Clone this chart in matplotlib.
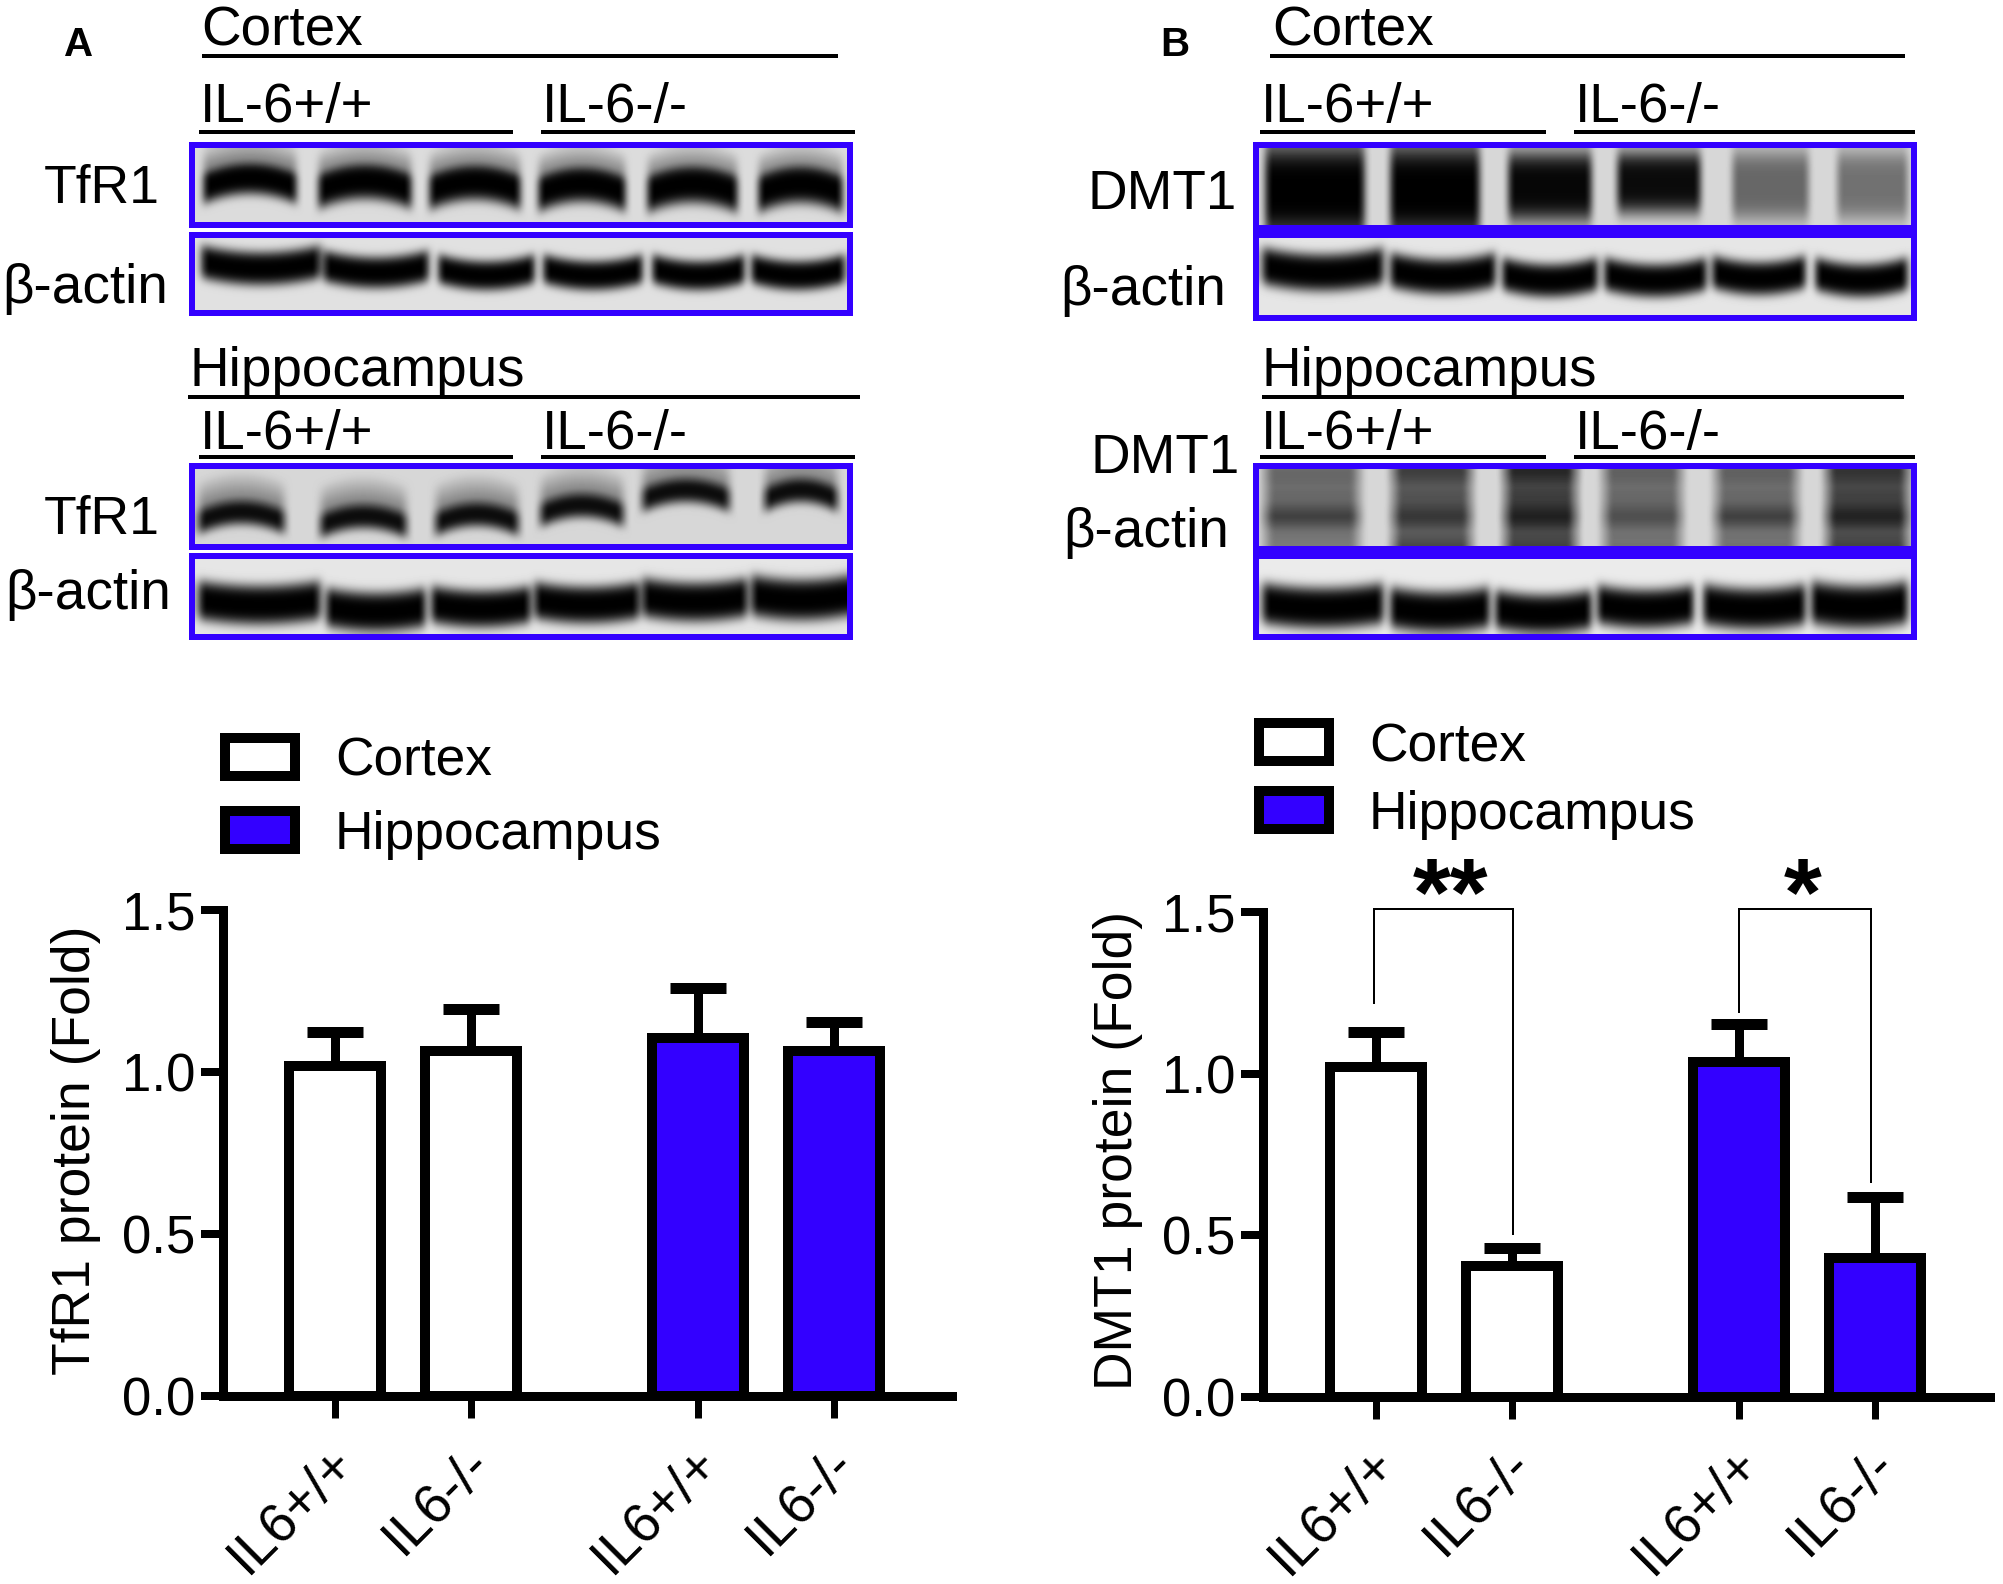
import matplotlib
matplotlib.use('Agg')
import matplotlib.pyplot as plt
from matplotlib.patches import Patch, Rectangle
from matplotlib.transforms import ScaledTranslation
import numpy as np

plt.rcParams['font.family'] = ['Liberation Sans', 'DejaVu Sans']

# Dados
groups = ['IL6+/+', 'IL6-/-', 'IL6+/+', 'IL6-/-']
tfr1_mean = [1.02, 1.065, 1.105, 1.065]
tfr1_upper = [1.125, 1.195, 1.26, 1.155]
dmt1_mean = [1.02, 0.405, 1.035, 0.43]
dmt1_upper = [1.13, 0.46, 1.155, 0.62]
yticks = [0.0, 0.5, 1.0, 1.5]

W, H = 2003, 1584
BLUE = '#3300FF'
PT = 0.72  # px -> pt at dpi 100

fig = plt.figure(figsize=(W / 100, H / 100), dpi=100)
bg = fig.add_axes([0, 0, 1, 1], zorder=0)


def add_bands(img, x0, y0, lefts, rights, centers, half, dark, smear=0.0, curve=0.0):
    yy, xx = np.mgrid[0:img.shape[0], 0:img.shape[1]]
    xx = xx + x0
    yy = yy + y0
    for i in range(len(lefts)):
        mid = (lefts[i] + rights[i]) / 2
        hw = (rights[i] - lefts[i]) / 2
        u = (xx - mid) / hw
        mask = np.clip((1.08 - np.abs(u)) / 0.16, 0, 1)
        d = yy - (centers[i] + curve * (u ** 2 - 0.3))
        band = np.exp(-(d / half[i]) ** 4)
        if smear > 0:
            up = smear * np.clip(1 + d / 42, 0, 1) * (d < 0)
            band = np.maximum(band, up)
        img *= 1 - dark[i] * band * mask


def blur(img, n=7):
    k = np.ones(n) / n
    pad = np.pad(img, n, mode='edge')
    pad = np.apply_along_axis(lambda r: np.convolve(r, k, mode='same'), 0, pad)
    pad = np.apply_along_axis(lambda r: np.convolve(r, k, mode='same'), 1, pad)
    return pad[n:-n, n:-n]


def show_blot(x0, x1, y0, y1, level, band_sets, n=9):
    img = np.full((y1 - y0, x1 - x0), float(level))
    for b in band_sets:
        add_bands(img, x0, y0, **b)
    bg.imshow(blur(img, n), cmap='gray', vmin=0, vmax=1, extent=(x0, x1, y1, y0),
              aspect='auto', interpolation='bilinear', zorder=1)


six_black = [1, 1, 1, 1, 1, 1]

# Panel A blots
show_blot(195, 847, 148, 222, 0.86, [dict(
    lefts=[203, 318, 429, 538, 647, 758], rights=[296, 411, 520, 625, 737, 842],
    centers=[180, 183, 184, 186, 186, 186], half=[17, 19, 19, 19, 20, 20],
    dark=six_black, smear=0.72, curve=10)])
show_blot(195, 847, 238, 310, 0.88, [dict(
    lefts=[201, 323, 438, 543, 652, 751], rights=[320, 428, 534, 642, 744, 844],
    centers=[266, 270, 273, 273, 273, 273], half=[17, 16, 15, 15, 15, 15],
    dark=six_black, curve=-7)])
show_blot(195, 847, 469, 544, 0.84, [dict(
    lefts=[198, 320, 435, 540, 642, 764], rights=[284, 406, 518, 623, 729, 837],
    centers=[514, 518, 516, 507, 492, 492], half=[13, 13, 13, 13, 13, 13],
    dark=[.95, .95, .95, .95, .95, .95], smear=0.62, curve=10)], n=11)
show_blot(195, 847, 559, 634, 0.90, [dict(
    lefts=[198, 326, 431, 534, 642, 751], rights=[320, 425, 530, 639, 747, 850],
    centers=[603, 610, 607, 603, 600, 598], half=[20, 20, 19, 19, 20, 21],
    dark=six_black, curve=-5)])

# Panel B blots
b_lanes_hi = dict(lefts=[1262, 1390, 1502, 1604, 1712, 1815], rights=[1383, 1495, 1597, 1706, 1805, 1907])
show_blot(1259, 1911, 148, 225, 0.84, [dict(
    lefts=[1265, 1390, 1508, 1617, 1732, 1837], rights=[1364, 1479, 1591, 1700, 1808, 1907],
    centers=[190, 190, 186, 182, 185, 185], half=[48, 48, 36, 32, 36, 36],
    dark=[1, 1, .97, .95, .52, .47], smear=0.6)])
show_blot(1259, 1911, 238, 315, 0.90, [dict(
    centers=[270, 274, 278, 278, 276, 278], half=[19, 18, 17, 17, 17, 17],
    dark=six_black, curve=-7, **b_lanes_hi)])
b_lanes_lo = dict(lefts=[1265, 1393, 1505, 1604, 1716, 1827], rights=[1358, 1470, 1575, 1680, 1796, 1907])
show_blot(1259, 1911, 469, 546, 0.84, [
    dict(centers=[507] * 6, half=[42] * 6, dark=[.52, .62, .72, .52, .52, .7], **b_lanes_lo),
    dict(centers=[472] * 6, half=[8] * 6, dark=[.3, .55, .7, .35, .35, .6], **b_lanes_lo),
    dict(centers=[516] * 6, half=[9] * 6, dark=[.4, .35, .5, .25, .4, .5], **b_lanes_lo),
    dict(centers=[544] * 6, half=[7] * 6, dark=[.2, .5, .5, .25, .25, .5], **b_lanes_lo)], n=15)
show_blot(1259, 1911, 559, 634, 0.92, [dict(
    lefts=[1262, 1390, 1495, 1597, 1703, 1811], rights=[1383, 1489, 1591, 1693, 1805, 1907],
    centers=[606, 610, 612, 607, 607, 605], half=[21, 21, 20, 20, 21, 22],
    dark=six_black, curve=-5)])

# blue frames round the blots
for (x0, x1, y0, y1) in [(192, 850, 145, 225), (192, 850, 235, 313),
                         (192, 850, 466, 547), (192, 850, 556, 637),
                         (1256, 1914, 145, 318), (1256, 1914, 466, 637)]:
    bg.add_patch(Rectangle((x0, y0), x1 - x0, y1 - y0, fc='none', ec=BLUE, lw=6 * PT, zorder=3))
for (y0, y1) in [(225, 238), (546, 559)]:
    bg.add_patch(Rectangle((1256, y0), 658, y1 - y0, fc=BLUE, ec='none', zorder=3))

# header lines
for (x0, x1, y) in [(202, 838, 56), (199, 513, 132), (541, 855, 132),
                    (188, 860, 397), (199, 513, 457), (541, 855, 457),
                    (1270, 1905, 56), (1260, 1546, 132), (1574, 1915, 132),
                    (1262, 1904, 397), (1260, 1546, 457), (1574, 1915, 457)]:
    bg.plot([x0, x1], [y, y], color='k', lw=4 * PT, solid_capstyle='butt', zorder=2)

# blot text
BS = 39.5
for (x, y, s, ha, fs) in [
    (201, 46, 'Cortex', 'left', BS), (200, 122, 'IL-6+/+', 'left', BS), (542, 122, 'IL-6-/-', 'left', BS),
    (190, 386, 'Hippocampus', 'left', BS), (200, 449, 'IL-6+/+', 'left', BS), (542, 449, 'IL-6-/-', 'left', BS),
    (160, 203, 'TfR1', 'right', 38.5), (168, 303, 'β-actin', 'right', BS),
    (160, 534, 'TfR1', 'right', 38.5), (171, 609, 'β-actin', 'right', BS),
    (1272, 46, 'Cortex', 'left', BS), (1261, 122, 'IL-6+/+', 'left', BS), (1575, 122, 'IL-6-/-', 'left', BS),
    (1262, 386, 'Hippocampus', 'left', BS), (1261, 449, 'IL-6+/+', 'left', BS), (1575, 449, 'IL-6-/-', 'left', BS),
    (1237, 209, 'DMT1', 'right', 39.5), (1226, 305, 'β-actin', 'right', BS),
    (1240, 473, 'DMT1', 'right', 39.5), (1229, 547, 'β-actin', 'right', BS),
]:
    bg.text(x, y, s, ha=ha, va='baseline', fontsize=fs, color='k', zorder=4)
bg.text(79, 45, 'A', ha='center', va='center', fontsize=29, fontweight='bold')
bg.text(1175, 45, 'B', ha='center', va='center', fontsize=29, fontweight='bold')

bg.set_xlim(0, W)
bg.set_ylim(H, 0)
bg.axis('off')


def bar_panel(left, right, top, zero, xt, means, uppers, ylabel, label_x, legend_xy, spacing):
    ax = fig.add_axes([left / W, 1 - zero / H, (right - left) / W, (zero - top) / H], zorder=2)
    ax.patch.set_alpha(0)
    unit = (xt[3] - xt[0]) / 3.68
    pos = [0, 1, 2.68, 3.68]
    ax.set_xlim((left - xt[0]) / unit, (right - xt[0]) / unit)
    ax.set_ylim(0, 1.5)
    colors = ['white', 'white', BLUE, BLUE]
    err = [u - m for u, m in zip(uppers, means)]
    ax.errorbar(pos, means, yerr=[[0] * 4, err], fmt='none', ecolor='k', elinewidth=9 * PT,
                capsize=28 * PT, capthick=11 * PT, zorder=2, clip_on=False)
    bars = ax.bar(pos, means, width=92 / unit, color=colors, edgecolor='k', linewidth=10 * PT,
                  zorder=3, clip_on=False)
    for s in ['top', 'right']:
        ax.spines[s].set_visible(False)
    for s in ['left', 'bottom']:
        ax.spines[s].set_linewidth(9 * PT)
        ax.spines[s].set_zorder(4)
    ax.set_xticks(pos)
    ax.set_xticklabels(groups, rotation=45, ha='right', rotation_mode='anchor', fontsize=39.5)
    ax.set_yticks(yticks)
    ax.set_yticklabels(['%.1f' % v for v in yticks], fontsize=38)
    ax.tick_params(axis='x', length=22 * PT, width=7 * PT, pad=14)
    ax.tick_params(axis='y', length=22 * PT, width=8 * PT, pad=4)
    shift = ScaledTranslation(-6 / 100, 0, fig.dpi_scale_trans)
    for lab in ax.get_xticklabels():
        lab.set_transform(lab.get_transform() + shift)
    ax.set_ylabel(ylabel, fontsize=38.5, va='center')
    ax.yaxis.set_label_coords((label_x - left) / (right - left), (zero - 1150) / (zero - top))
    handles = [Patch(fc='white', ec='k', lw=10 * PT), Patch(fc=BLUE, ec='k', lw=10 * PT)]
    fig.legend(handles, ['Cortex', 'Hippocampus'], loc='upper left',
               bbox_to_anchor=(legend_xy[0] / W, 1 - legend_xy[1] / H), frameon=False, fontsize=38.4,
               handlelength=1.32, handleheight=0.72, handletextpad=0.74, labelspacing=spacing,
               borderpad=0, borderaxespad=0)
    return ax, bars


axA, _ = bar_panel(223, 952, 910, 1396, [335, 471, 700, 834], tfr1_mean, tfr1_upper,
                   'TfR1 protein (Fold)', 76, (225, 737), 0.43)
axB, _ = bar_panel(1263, 1990, 912, 1397, [1376, 1511, 1739, 1875], dmt1_mean, dmt1_upper,
                   'DMT1 protein (Fold)', 1118, (1259, 722), 0.33)

# significance brackets
bg2 = fig.add_axes([0, 0, 1, 1], zorder=5)
bg2.patch.set_alpha(0)
for (xl, xr, yl, yr, y, star, xs) in [(1374, 1513, 1003, 1234, 909, '**', 1451),
                                      (1739, 1871, 1012, 1182, 909, '*', 1803)]:
    bg2.plot([xl, xl, xr, xr], [yl, y, y, yr], color='k', lw=2 * PT, solid_joinstyle='miter')
    bg2.text(xs, 925, star, ha='center', va='baseline', fontsize=70, fontweight='bold')
bg2.set_xlim(0, W)
bg2.set_ylim(H, 0)
bg2.axis('off')

fig.savefig('out.png', dpi=100)
